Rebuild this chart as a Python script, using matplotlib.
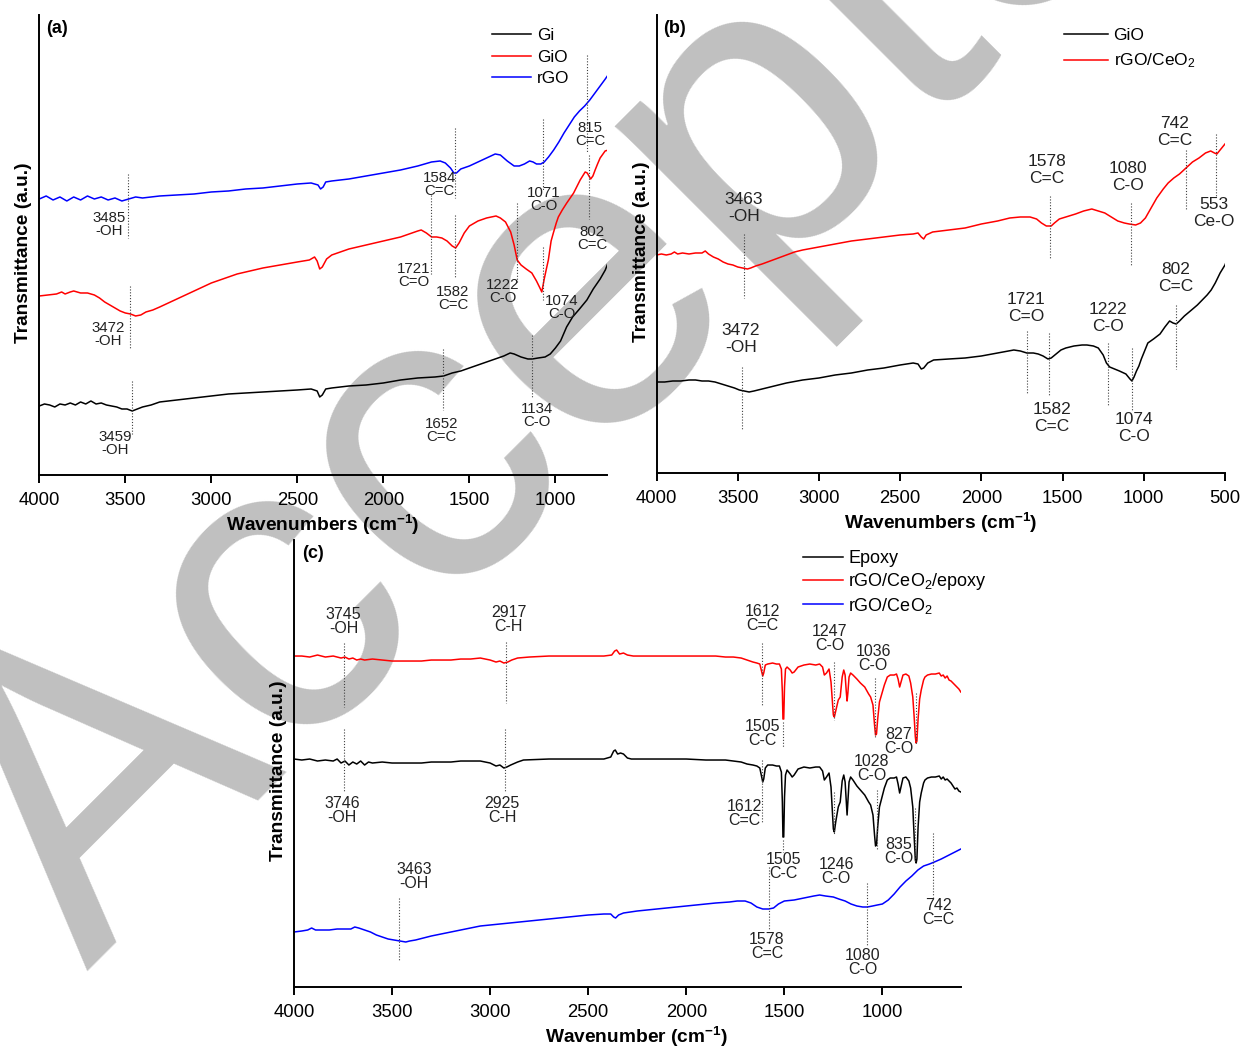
import numpy as np
import matplotlib.pyplot as plt

plt.rcParams['font.family'] = 'Liberation Sans'
plt.rcParams['mathtext.fontset'] = 'custom'
plt.rcParams['mathtext.rm'] = 'Liberation Sans'
plt.rcParams['mathtext.bf'] = 'Liberation Sans:bold'
plt.rcParams['mathtext.default'] = 'rm'

# ---------------- espectros (número de onda, transmitância em u.a.) ----------------
# (a)
a_rgo = [(4000, 276), (3960, 279), (3920, 275), (3880, 278), (3840, 274), (3800, 278), (3760, 275),
         (3720, 279), (3680, 276), (3640, 278), (3600, 275), (3560, 277), (3520, 274), (3480, 276),
         (3440, 278), (3400, 277), (3300, 279), (3200, 280), (3100, 281), (3000, 283), (2900, 284),
         (2800, 286), (2700, 287), (2600, 289), (2500, 291), (2420, 292), (2380, 290), (2365, 286),
         (2350, 288), (2335, 293), (2300, 294), (2200, 296), (2100, 299), (2000, 302), (1900, 305),
         (1800, 309), (1720, 313), (1670, 314), (1640, 312), (1610, 307), (1590, 302), (1575, 302),
         (1550, 306), (1500, 309), (1450, 313), (1400, 317), (1350, 321), (1320, 320), (1280, 314),
         (1240, 309), (1210, 309), (1180, 311), (1150, 314), (1130, 313), (1110, 311), (1085, 311),
         (1065, 313), (1040, 318), (1010, 325), (980, 333), (950, 342), (920, 350), (890, 358),
         (860, 364), (830, 369), (800, 375), (770, 382), (740, 389), (710, 396), (690, 401)]
a_gio = [(4000, 179), (3950, 180), (3900, 181), (3870, 183), (3850, 181), (3820, 183), (3800, 184),
         (3760, 182), (3720, 182), (3680, 180), (3650, 177), (3620, 173), (3590, 170), (3560, 167),
         (3530, 164), (3500, 162), (3470, 161), (3440, 159), (3410, 160), (3380, 163), (3340, 165),
         (3300, 168), (3250, 172), (3200, 176), (3150, 180), (3100, 184), (3050, 188), (3000, 192),
         (2950, 195), (2900, 198), (2850, 201), (2800, 203), (2700, 207), (2600, 210), (2500, 213),
         (2430, 215), (2400, 218), (2385, 214), (2370, 206), (2355, 208), (2330, 216), (2300, 220),
         (2250, 223), (2200, 226), (2150, 228), (2100, 230), (2000, 234), (1900, 238), (1850, 241),
         (1800, 244), (1780, 245), (1750, 242), (1720, 238), (1690, 238), (1660, 237), (1630, 234),
         (1600, 229), (1580, 227), (1560, 232), (1530, 242), (1500, 249), (1450, 254), (1400, 257),
         (1345, 259), (1320, 257), (1290, 253), (1260, 243), (1240, 230), (1222, 215), (1200, 210),
         (1170, 206), (1137, 202), (1110, 194), (1090, 187), (1079, 183), (1065, 196), (1050, 208),
         (1041, 215), (1025, 234), (1012, 242), (995, 252), (983, 258), (960, 265), (934, 272),
         (894, 282), (856, 295), (827, 303), (815, 302), (805, 299), (795, 296), (782, 299),
         (769, 305), (755, 311), (740, 317), (711, 324), (692, 325)]
a_gi = [(4000, 69), (3970, 71), (3940, 70), (3910, 68), (3880, 71), (3850, 70), (3820, 72), (3790, 70),
        (3760, 73), (3730, 71), (3700, 74), (3670, 71), (3640, 72), (3610, 70), (3580, 69), (3550, 68),
        (3520, 66), (3490, 66), (3460, 64), (3430, 66), (3400, 68), (3350, 70), (3300, 73), (3250, 74),
        (3200, 75), (3100, 77), (3000, 79), (2900, 81), (2800, 82), (2700, 83), (2600, 84), (2500, 85),
        (2420, 86), (2385, 84), (2370, 78), (2355, 80), (2335, 86), (2300, 87), (2200, 89), (2100, 90),
        (2000, 92), (1900, 95), (1800, 97), (1700, 98), (1650, 99), (1600, 102), (1550, 104),
        (1500, 107), (1450, 110), (1400, 113), (1350, 116), (1300, 119), (1263, 122), (1240, 121),
        (1200, 118), (1160, 116), (1134, 116), (1100, 117), (1060, 118), (1030, 121), (1000, 127),
        (970, 134), (935, 148), (900, 158), (860, 166), (817, 175), (780, 186), (740, 196),
        (710, 205), (692, 213)]

# (b)
b_rgo_ceo2 = [(4000, 218), (3970, 219), (3940, 218), (3910, 219), (3890, 221), (3870, 219), (3840, 220),
              (3800, 219), (3760, 220), (3720, 220), (3700, 222), (3680, 219), (3650, 216), (3620, 214),
              (3590, 211), (3560, 209), (3530, 208), (3500, 206), (3470, 205), (3440, 204), (3420, 205),
              (3390, 207), (3350, 209), (3300, 212), (3250, 215), (3200, 218), (3150, 221), (3100, 223),
              (3000, 226), (2900, 229), (2800, 232), (2700, 234), (2600, 236), (2500, 238), (2420, 239),
              (2390, 240), (2370, 236), (2355, 234), (2340, 238), (2300, 241), (2200, 243), (2100, 245),
              (2000, 249), (1900, 252), (1825, 255), (1760, 256), (1700, 256), (1660, 254), (1630, 250),
              (1600, 247), (1570, 247), (1550, 250), (1520, 254), (1480, 256), (1420, 259), (1370, 262),
              (1320, 264), (1280, 262), (1240, 260), (1200, 256), (1160, 252), (1120, 250), (1090, 249),
              (1050, 248), (1020, 250), (990, 255), (955, 265), (920, 275), (880, 284), (850, 290),
              (815, 295), (780, 299), (740, 305), (700, 311), (660, 315), (620, 320), (588, 322),
              (565, 320), (550, 319), (530, 323), (500, 329)]
b_gio = [(4000, 91), (3950, 91), (3900, 92), (3850, 92), (3800, 93), (3760, 93), (3720, 92), (3680, 92),
         (3640, 91), (3600, 89), (3560, 87), (3520, 85), (3490, 83), (3460, 82), (3430, 81), (3400, 82),
         (3350, 84), (3300, 86), (3250, 88), (3200, 90), (3100, 93), (3000, 95), (2900, 98), (2800, 100),
         (2700, 103), (2600, 105), (2500, 108), (2420, 110), (2390, 109), (2370, 104), (2355, 105),
         (2330, 110), (2294, 113), (2200, 114), (2100, 115), (2000, 117), (1900, 120), (1800, 123),
         (1760, 122), (1720, 120), (1680, 120), (1650, 119), (1620, 117), (1590, 114), (1570, 115),
         (1540, 119), (1510, 123), (1480, 125), (1430, 127), (1380, 128), (1350, 128), (1310, 127),
         (1280, 125), (1250, 118), (1230, 110), (1210, 106), (1180, 104), (1150, 102), (1110, 99),
         (1085, 94), (1073, 92), (1060, 96), (1045, 102), (1030, 107), (1015, 114), (1000, 120),
         (975, 130), (940, 134), (900, 139), (870, 146), (841, 152), (820, 150), (800, 149),
         (780, 152), (750, 157), (706, 163), (670, 168), (640, 173), (610, 178), (585, 183),
         (560, 190), (530, 200), (500, 208), (493, 211)]

# (c)
c_compos = [(4000, 331), (3960, 331), (3920, 330), (3880, 332), (3840, 330), (3800, 331), (3780, 330),
            (3760, 329), (3740, 330), (3720, 328), (3700, 329), (3680, 327), (3660, 328), (3640, 327),
            (3600, 328), (3550, 327), (3500, 326), (3450, 326), (3400, 326), (3350, 326), (3300, 327),
            (3250, 327), (3200, 327), (3150, 328), (3100, 328), (3050, 329), (3000, 327), (2970, 325),
            (2950, 326), (2930, 324), (2910, 325), (2890, 327), (2860, 329), (2800, 330), (2700, 331),
            (2600, 331), (2500, 331), (2420, 331), (2380, 332), (2365, 336), (2355, 337), (2340, 333),
            (2320, 334), (2300, 332), (2270, 331), (2200, 331), (2100, 331), (2000, 331), (1900, 331),
            (1850, 331), (1800, 330), (1760, 330), (1720, 329), (1690, 327), (1660, 325), (1640, 324),
            (1625, 323), (1615, 315), (1610, 311), (1605, 314), (1597, 322), (1585, 323), (1560, 324),
            (1540, 323), (1525, 323), (1515, 318), (1510, 295), (1507, 268), (1503, 268), (1499, 300),
            (1494, 318), (1486, 320), (1470, 317), (1460, 314), (1450, 315), (1430, 320), (1400, 322),
            (1370, 323), (1340, 322), (1320, 323), (1305, 320), (1296, 312), (1285, 314), (1272, 318),
            (1262, 305), (1255, 285), (1250, 272), (1245, 270), (1238, 276), (1225, 287), (1215, 290),
            (1205, 310), (1197, 317), (1190, 312), (1184, 295), (1180, 286), (1176, 294), (1170, 310),
            (1162, 314), (1150, 312), (1130, 308), (1112, 304), (1090, 300), (1070, 293), (1060, 290),
            (1048, 282), (1040, 262), (1035, 252), (1030, 253), (1024, 268), (1015, 285), (1002, 294),
            (990, 302), (975, 310), (960, 312), (940, 312), (928, 313), (920, 308), (912, 300),
            (905, 305), (895, 312), (880, 313), (865, 311), (856, 304), (845, 290), (838, 270),
            (832, 250), (828, 244), (824, 246), (818, 268), (810, 288), (802, 297), (790, 307),
            (783, 310), (770, 312), (750, 313), (730, 313), (710, 314), (700, 311), (690, 312),
            (680, 309), (670, 311), (660, 307), (650, 306), (640, 304), (630, 302), (620, 300),
            (610, 298), (600, 295)]
c_epoxy = [(4000, 228), (3960, 227), (3920, 228), (3880, 226), (3840, 227), (3800, 226), (3780, 228),
           (3760, 224), (3740, 226), (3720, 222), (3700, 225), (3680, 223), (3660, 226), (3640, 222),
           (3620, 225), (3600, 224), (3550, 225), (3500, 224), (3450, 224), (3400, 224), (3350, 224),
           (3300, 225), (3250, 225), (3200, 225), (3150, 226), (3100, 226), (3050, 226), (3000, 224),
           (2970, 221), (2950, 222), (2930, 219), (2915, 220), (2895, 222), (2860, 225), (2830, 227),
           (2700, 228), (2600, 228), (2500, 228), (2420, 228), (2385, 230), (2370, 236), (2362, 237),
           (2350, 233), (2335, 234), (2320, 233), (2300, 229), (2280, 228), (2200, 228), (2100, 228),
           (2000, 228), (1900, 227), (1850, 227), (1800, 227), (1760, 226), (1720, 225), (1690, 223),
           (1660, 222), (1640, 221), (1625, 219), (1615, 210), (1610, 205), (1605, 208), (1597, 219),
           (1585, 222), (1560, 222), (1540, 221), (1525, 221), (1515, 215), (1510, 185), (1507, 150),
           (1503, 150), (1499, 190), (1494, 212), (1486, 217), (1470, 213), (1460, 210), (1450, 212),
           (1430, 218), (1400, 220), (1370, 219), (1340, 220), (1320, 220), (1305, 216), (1296, 207),
           (1285, 210), (1272, 214), (1262, 200), (1255, 175), (1250, 158), (1245, 155), (1238, 165),
           (1225, 180), (1215, 185), (1205, 206), (1197, 212), (1190, 205), (1184, 185), (1180, 172),
           (1176, 185), (1170, 205), (1162, 210), (1150, 207), (1130, 201), (1112, 197), (1090, 192),
           (1070, 185), (1060, 182), (1048, 172), (1040, 152), (1035, 141), (1030, 142), (1024, 160),
           (1015, 180), (1002, 190), (990, 199), (975, 207), (960, 209), (940, 209), (928, 210),
           (920, 203), (912, 194), (905, 200), (895, 209), (880, 210), (865, 206), (856, 199),
           (845, 180), (838, 150), (832, 127), (828, 124), (824, 128), (818, 160), (810, 185),
           (802, 194), (790, 204), (783, 207), (770, 209), (750, 210), (730, 210), (710, 211),
           (700, 208), (690, 210), (680, 207), (670, 208), (660, 206), (650, 204), (640, 201),
           (630, 198), (620, 199), (610, 196), (600, 195)]
c_rgo_ceo2 = [(4000, 55), (3960, 56), (3930, 57), (3910, 59), (3890, 57), (3860, 57), (3820, 57),
              (3780, 58), (3740, 58), (3710, 58), (3690, 60), (3670, 59), (3640, 57), (3610, 55),
              (3580, 52), (3550, 50), (3520, 48), (3490, 47), (3460, 46), (3430, 45), (3410, 46),
              (3380, 47), (3340, 49), (3300, 51), (3250, 53), (3200, 55), (3150, 57), (3100, 59),
              (3050, 61), (3000, 62), (2900, 64), (2800, 66), (2700, 68), (2600, 70), (2500, 72),
              (2420, 73), (2385, 73), (2370, 70), (2360, 69), (2345, 72), (2320, 74), (2250, 76),
              (2150, 78), (2050, 80), (1950, 82), (1850, 84), (1780, 85), (1740, 86), (1700, 86),
              (1670, 84), (1640, 80), (1610, 78), (1580, 78), (1555, 79), (1530, 83), (1500, 86),
              (1450, 87), (1400, 89), (1350, 91), (1320, 92), (1290, 91), (1250, 90), (1222, 88),
              (1190, 86), (1160, 83), (1130, 81), (1100, 80), (1076, 80), (1050, 81), (1026, 82),
              (1000, 83), (970, 87), (940, 93), (910, 100), (880, 106), (850, 111), (819, 117),
              (790, 121), (760, 123), (735, 125), (700, 128), (660, 132), (630, 135), (600, 138)]

# ---------------- bandas atribuídas ----------------
a_bandas = [3485, 1584, 1071, 815, 1721, 1582, 1222, 1074, 802, 3472, 3459, 1652, 1134]
a_grupos = ['-OH', 'C=C', 'C-O', 'C=C', 'C=O', 'C=C', 'C-O', 'C-O', 'C=C', '-OH', '-OH', 'C=C', 'C-O']
b_bandas = [3463, 1578, 1080, 742, 553, 3472, 1721, 1582, 1222, 1074, 802]
b_grupos = ['-OH', 'C=C', 'C-O', 'C=C', 'Ce-O', '-OH', 'C=O', 'C=C', 'C-O', 'C-O', 'C=C']
c_bandas = [3745, 2917, 1612, 1247, 1036, 1505, 827, 3746, 2925, 1612, 1505, 1246, 1028, 835,
            3463, 1578, 1080, 742]
c_grupos = ['-OH', 'C-H', 'C=C', 'C-O', 'C-O', 'C-C', 'C-O', '-OH', 'C-H', 'C=C', 'C-C', 'C-O',
            'C-O', 'C-O', '-OH', 'C=C', 'C-O', 'C=C']

# posição das marcações: (linha de, linha até, x do texto, topo do texto)
a_marcas = [(301, 237, 3595, 264), (347, 277, 1676, 304), (356, 285, 1066, 289), (420, 323, 798, 354),
            (280, 201, 1822, 213), (260, 198, 1595, 190), (272, 193, 1304, 197), (228, 175, 961, 181),
            (320, 256, 787, 250), (189, 127, 3601, 154), (94, 41, 3557, 45), (126, 65, 1660, 58),
            (140, 78, 1108, 73)]
b_marcas = [(238.5, 175, 3462, 281), (276.5, 214.4, 1598, 319), (269.6, 207.5, 1097, 312),
            (323, 263, 809, 357), (338.5, 276.5, 567, 276), (106, 44, 3480, 150), (142, 80, 1725, 181),
            (140, 78, 1566, 71), (130, 68, 1220, 171), (125, 63, 1060, 60.5), (168, 104, 801, 210.5)]
c_marcas = [(344, 280, 3748, 380), (345, 284, 2906, 382), (344, 282, 1612, 383), (325, 267, 1270, 363),
            (309, 249, 1046, 343), (265, 239, 1612, 268), (294, 242, 918, 260), (258, 195, 3755, 191),
            (258, 195, 2939, 191), (227, 164, 1705, 188), (147, 135, 1503, 135), (195, 152, 1235, 130),
            (197, 137, 1056, 233), (179, 125, 918, 150), (89, 27, 3388, 125), (120, 57, 1588, 55),
            (104, 42, 1100, 39), (154, 90, 716, 89)]


def desenhar_painel(ax, series, bandas, grupos, marcas, xlim, ylim, ticks, xlabel,
                    fs_banda, esp_banda):
    for dados, cor, rotulo in series:
        wn, t = np.array(dados).T
        ax.plot(wn, t, color=cor, lw=1.1, label=rotulo)

    for wn, grupo, (y0, y1, tx, ty) in zip(bandas, grupos, marcas):
        ax.plot([wn, wn], [y0, y1], color='0.25', lw=0.8, ls=(0, (1, 1.6)))
        ax.text(tx, ty, f'{wn}\n{grupo}', ha='center', va='top', fontsize=fs_banda,
                linespacing=esp_banda, color='#222222')

    ax.set_xlim(*xlim)
    ax.set_ylim(*ylim)
    ax.set_xticks(ticks)
    ax.set_yticks([])
    ax.tick_params(axis='x', direction='out', length=5.5, width=1.4, pad=6.5, labelsize=13.3)
    for lado in ['top', 'right']:
        ax.spines[lado].set_visible(False)
    for lado in ['left', 'bottom']:
        ax.spines[lado].set_linewidth(1.4)
    ax.set_facecolor('none')
    ax.set_xlabel(xlabel, fontsize=13.8, fontweight='bold', labelpad=3)
    ax.set_ylabel('Transmittance (a.u.)', fontsize=13.8, fontweight='bold', labelpad=5, y=0.483)


fig = plt.figure(figsize=(12.42, 10.46), dpi=100)

# marca d'água
fig.text(86.7 / 1242, 1 - 972 / 1046, 'Accepted', fontsize=306, color='#c0c0c0',
         rotation=45, rotation_mode='anchor', ha='left', va='baseline', zorder=-5)

ax_a = fig.add_axes([0.03164, 0.5459, 0.4571, 0.4393])
ax_b = fig.add_axes([0.5286, 0.5478, 0.4577, 0.4374])
ax_c = fig.add_axes([0.2367, 0.05641, 0.5374, 0.4273])

xlab_s = r'Wavenumbers (cm$^{\mathbf{-1}}$)'
xlab = r'Wavenumber (cm$^{\mathbf{-1}}$)'

desenhar_painel(ax_a, [(a_gi, 'black', 'Gi'), (a_gio, 'red', 'GiO'), (a_rgo, 'blue', 'rGO')],
                a_bandas, a_grupos, a_marcas, (4000, 700), (0, 459.5),
                [4000, 3500, 3000, 2500, 2000, 1500, 1000], xlab_s, 10.8, 0.95)
desenhar_painel(ax_b, [(b_gio, 'black', 'GiO'), (b_rgo_ceo2, 'red', r'rGO/CeO$_2$')],
                b_bandas, b_grupos, b_marcas, (4000, 500), (0, 457.5),
                [4000, 3500, 3000, 2500, 2000, 1500, 1000, 500], xlab_s, 12.5, 1.15)
desenhar_painel(ax_c, [(c_epoxy, 'black', 'Epoxy'), (c_compos, 'red', r'rGO/CeO$_2$/epoxy'),
                       (c_rgo_ceo2, 'blue', r'rGO/CeO$_2$')],
                c_bandas, c_grupos, c_marcas, (4000, 597), (0, 447),
                [4000, 3500, 3000, 2500, 2000, 1500, 1000], xlab, 11.5, 0.95)
ax_c.set_xlabel(xlab, fontsize=13.8, fontweight='bold', labelpad=3, x=0.513)

ax_a.legend(loc='upper left', bbox_to_anchor=(0.797, 0.972), frameon=False, fontsize=12.3,
            handlelength=2.3, handletextpad=0.36, labelspacing=0.38, borderpad=0, borderaxespad=0)
ax_b.legend(loc='upper left', bbox_to_anchor=(0.7175, 0.972), frameon=False, fontsize=12.5,
            handlelength=2.5, handletextpad=0.33, labelspacing=0.48, borderpad=0, borderaxespad=0)
ax_c.legend(loc='upper left', bbox_to_anchor=(0.762, 0.977), frameon=False, fontsize=13,
            handlelength=2.26, handletextpad=0.26, labelspacing=0.2, borderpad=0, borderaxespad=0)

for ax, letra in [(ax_a, '(a)'), (ax_b, '(b)'), (ax_c, '(c)')]:
    ax.text(0.012, 0.99, letra, transform=ax.transAxes, ha='left', va='top',
            fontsize=13, fontweight='bold')

fig.savefig('out.png', dpi=100, facecolor='white')
